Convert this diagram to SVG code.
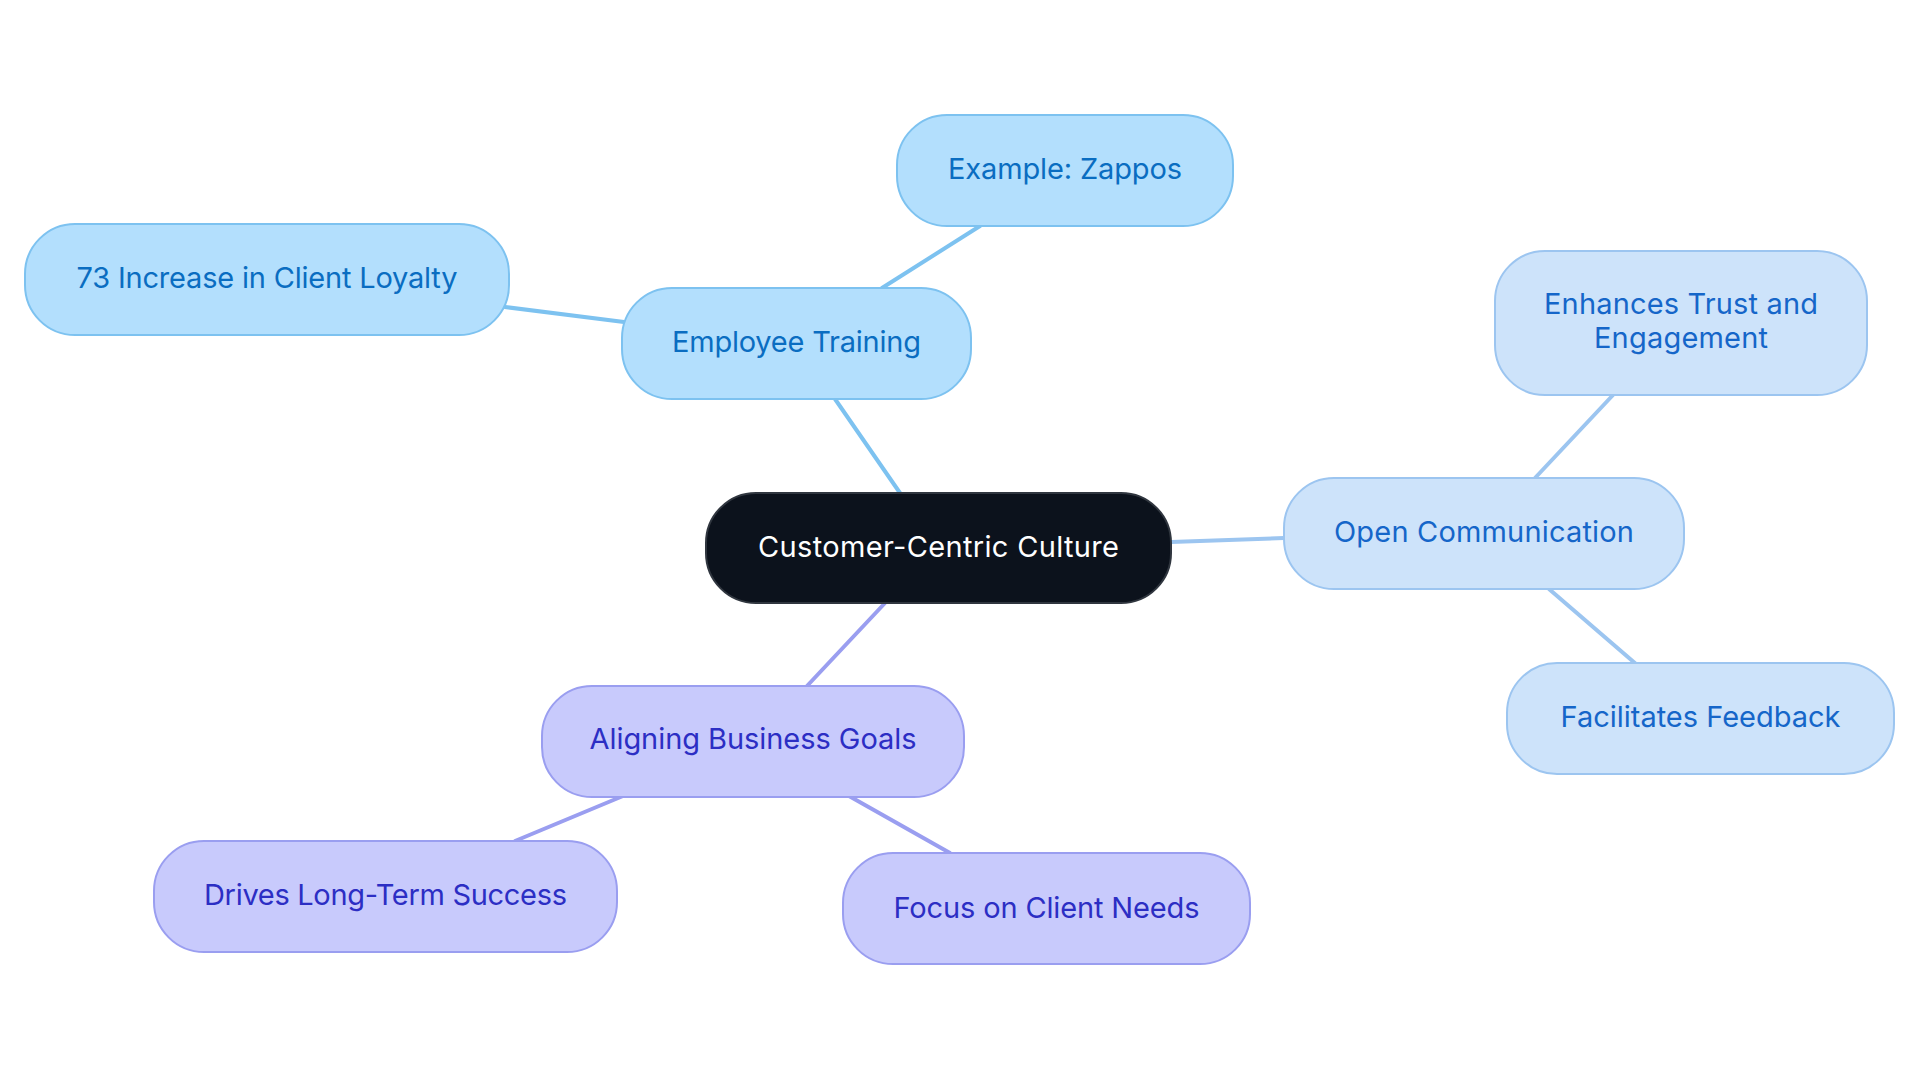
<svg xmlns="http://www.w3.org/2000/svg" width="1920" height="1083" viewBox="0 0 1920 1083">
<style>
  .n rect { stroke-width: 2; }
  .t { font-family: Inter, "Noto Sans", "Liberation Sans", sans-serif; font-size: 29px; text-anchor: middle; }
  .b1 rect { fill: #B3DFFD; stroke: #7DC2F0; }
  .b1 text { fill: #0A6DC1; }
  .b2 rect { fill: #CDE3FA; stroke: #9CC5F0; }
  .b2 text { fill: #1566C9; }
  .p rect { fill: #C8CAFC; stroke: #9A9EF0; }
  .p text { fill: #2C2EC4; }
  .c rect { fill: #0C121C; stroke: #30363F; }
  .c text { fill: #FFFFFF; }
  .e line { stroke-width: 4; stroke-linecap: round; }
</style>
<rect width="1920" height="1083" fill="#FFFFFF"/>
<g id="connectors" class="e">
  <line x1="900" y1="493" x2="835" y2="399" stroke="#7DC2F0"/>
  <line x1="882" y1="288" x2="980" y2="226" stroke="#7DC2F0"/>
  <line x1="624" y1="322" x2="505" y2="307" stroke="#7DC2F0"/>
  <line x1="1171" y1="542" x2="1284" y2="538" stroke="#9CC5F0"/>
  <line x1="1535" y1="478" x2="1613" y2="395" stroke="#9CC5F0"/>
  <line x1="1549" y1="589" x2="1636" y2="664" stroke="#9CC5F0"/>
  <line x1="885" y1="603" x2="807" y2="686" stroke="#9A9EF0"/>
  <line x1="623" y1="796" x2="515" y2="841" stroke="#9A9EF0"/>
  <line x1="849" y1="796" x2="950" y2="853" stroke="#9A9EF0"/>
</g>
<g id="node-central" class="n c">
  <rect x="706" y="493" width="465" height="110" rx="50"/>
  <text class="t" x="938.5" y="557" textLength="361" lengthAdjust="spacing">Customer-Centric Culture</text>
</g>
<g id="node-employee-training" class="n b1">
  <rect x="622" y="288" width="349" height="111" rx="50"/>
  <text class="t" x="796.5" y="352" textLength="249" lengthAdjust="spacing">Employee Training</text>
</g>
<g id="node-zappos" class="n b1">
  <rect x="897" y="115" width="336" height="111" rx="50"/>
  <text class="t" x="1065" y="179" textLength="234" lengthAdjust="spacing">Example: Zappos</text>
</g>
<g id="node-loyalty" class="n b1">
  <rect x="25" y="224" width="484" height="111" rx="50"/>
  <text class="t" x="267" y="288" textLength="381" lengthAdjust="spacing">73 Increase in Client Loyalty</text>
</g>
<g id="node-open-communication" class="n b2">
  <rect x="1284" y="478" width="400" height="111" rx="50"/>
  <text class="t" x="1484" y="542" textLength="300" lengthAdjust="spacing">Open Communication</text>
</g>
<g id="node-trust" class="n b2">
  <rect x="1495" y="251" width="372" height="144" rx="50"/>
  <text class="t" x="1681" y="314" textLength="274" lengthAdjust="spacing">Enhances Trust and</text>
  <text class="t" x="1681" y="348" textLength="174" lengthAdjust="spacing">Engagement</text>
</g>
<g id="node-feedback" class="n b2">
  <rect x="1507" y="663" width="387" height="111" rx="50"/>
  <text class="t" x="1700.5" y="727" textLength="280" lengthAdjust="spacing">Facilitates Feedback</text>
</g>
<g id="node-aligning" class="n p">
  <rect x="542" y="686" width="422" height="111" rx="50"/>
  <text class="t" x="753" y="749" textLength="327" lengthAdjust="spacing">Aligning Business Goals</text>
</g>
<g id="node-long-term" class="n p">
  <rect x="154" y="841" width="463" height="111" rx="50"/>
  <text class="t" x="385.5" y="905" textLength="363" lengthAdjust="spacing">Drives Long-Term Success</text>
</g>
<g id="node-client-needs" class="n p">
  <rect x="843" y="853" width="407" height="111" rx="50"/>
  <text class="t" x="1046.5" y="918" textLength="306" lengthAdjust="spacing">Focus on Client Needs</text>
</g>
</svg>
